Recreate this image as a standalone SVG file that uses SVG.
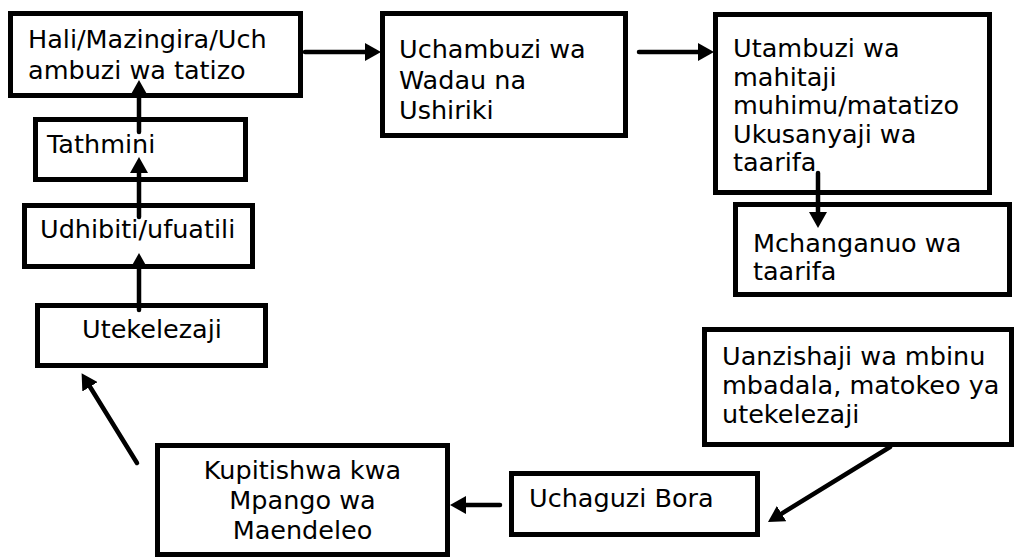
<svg xmlns="http://www.w3.org/2000/svg" width="1015" height="559" viewBox="0 0 1015 559">
<style>
.box{fill:#fff;stroke:#000;stroke-width:5}
.t{font-family:"DejaVu Sans",Verdana,sans-serif;font-size:25.5px;fill:#000}
.c{stroke:#000;stroke-width:4.5;fill:none;stroke-linecap:round}
</style>
<defs>
<marker id="ah" viewBox="0 0 16 18" refX="8" refY="9" markerWidth="16" markerHeight="18" markerUnits="userSpaceOnUse" orient="auto">
<path d="M0,0 L16,9 L0,18 Z" fill="#000"/>
</marker>
</defs>
<rect width="1015" height="559" fill="#fff"/>
<g id="n1"><rect class="box" x="10.5" y="13.5" width="290" height="82"/>
<text class="t" x="28" y="48">Hali/Mazingira/Uch</text><text class="t" x="28" y="79">ambuzi wa tatizo</text></g>
<g id="n2"><rect class="box" x="382.5" y="13.5" width="243" height="122"/>
<text class="t" x="399" y="58">Uchambuzi wa</text><text class="t" x="399" y="89">Wadau na</text><text class="t" x="399" y="119">Ushiriki</text></g>
<g id="n3"><rect class="box" x="715.5" y="14.5" width="274" height="178"/>
<text class="t" x="733" y="57">Utambuzi wa</text><text class="t" x="733" y="86">mahitaji</text><text class="t" x="733" y="114">muhimu/matatizo</text><text class="t" x="733" y="143">Ukusanyaji wa</text><text class="t" x="733" y="171">taarifa</text></g>
<g id="n4"><rect class="box" x="735.5" y="204.5" width="274" height="90"/>
<text class="t" x="753" y="252">Mchanganuo wa</text><text class="t" x="753" y="280">taarifa</text></g>
<g id="n5"><rect class="box" x="704.5" y="329.5" width="307" height="115"/>
<text class="t" x="722" y="365">Uanzishaji wa mbinu</text><text class="t" x="722" y="394">mbadala, matokeo ya</text><text class="t" x="722" y="423">utekelezaji</text></g>
<g id="n6"><rect class="box" x="511.5" y="473.5" width="246" height="61"/>
<text class="t" x="529" y="507">Uchaguzi Bora</text></g>
<g id="n7"><rect class="box" x="157.5" y="445.5" width="290" height="109"/>
<text class="t" x="302.5" y="479" text-anchor="middle">Kupitishwa kwa</text><text class="t" x="302.5" y="509" text-anchor="middle">Mpango wa</text><text class="t" x="302.5" y="539" text-anchor="middle">Maendeleo</text></g>
<g id="n8"><rect class="box" x="37.5" y="305.5" width="228" height="60"/>
<text class="t" x="82" y="338">Utekelezaji</text></g>
<g id="n9"><rect class="box" x="24.5" y="205.5" width="228" height="61"/>
<text class="t" x="40" y="238">Udhibiti/ufuatili</text></g>
<g id="n10"><rect class="box" x="35.5" y="119.5" width="210" height="60"/>
<text class="t" x="47" y="153">Tathmini</text></g>
<g id="connectors">
<line class="c" x1="305" y1="52" x2="373" y2="52" marker-end="url(#ah)"/>
<line class="c" x1="639" y1="52" x2="706" y2="52" marker-end="url(#ah)"/>
<line class="c" x1="818" y1="173" x2="818" y2="220" marker-end="url(#ah)"/>
<line class="c" x1="890" y1="447" x2="774.8" y2="517.8" marker-end="url(#ah)"/>
<line class="c" x1="500" y1="505" x2="458" y2="505" marker-end="url(#ah)"/>
<line class="c" x1="137" y1="463" x2="85.8" y2="380" marker-end="url(#ah)"/>
<line class="c" x1="139" y1="310" x2="139" y2="261" marker-end="url(#ah)"/>
<line class="c" x1="139" y1="217" x2="139" y2="165" marker-end="url(#ah)"/>
<line class="c" x1="139" y1="132" x2="139" y2="88" marker-end="url(#ah)"/>
</g>
</svg>
